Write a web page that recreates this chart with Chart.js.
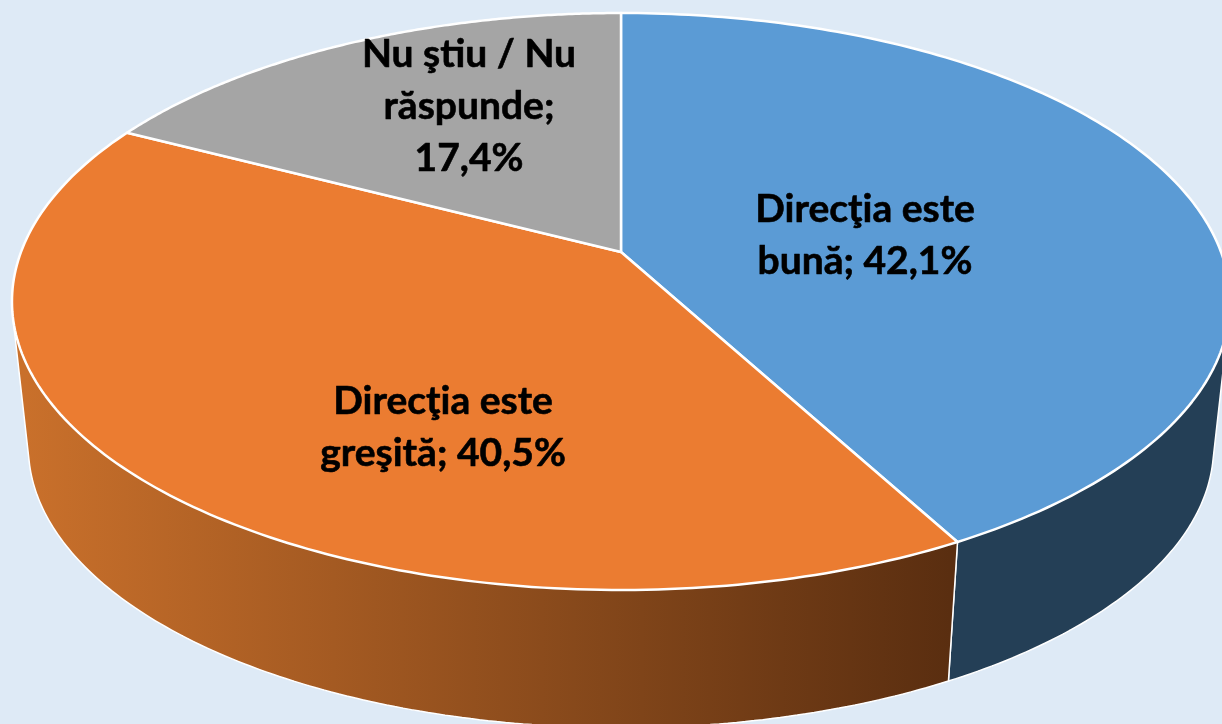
<!DOCTYPE html>
<html>
<head>
<meta charset="utf-8">
<title>Direcţia</title>
<script src="https://cdn.jsdelivr.net/npm/chart.js@4"></script>
<style>
  html, body { margin: 0; padding: 0; background: #deeaf6; overflow: hidden; }
  canvas { display: block; }
</style>
</head>
<body>
<canvas id="pie" width="1222" height="724"></canvas>
<script>
var categories = ["Direcţia este bună", "Direcţia este greşită", "Nu ştiu / Nu răspunde"];
var values = [42.1, 40.5, 17.4];
var labelLines = [
    ["Direcţia este", "bună; 42,1%"],
    ["Direcţia este", "greşită; 40,5%"],
    ["Nu ştiu / Nu", "răspunde;", "17,4%"]
];

// where the labels sit (centre x, y of first line)
var labelPos = [[865, 209], [443, 401], [469, 54]];
var faceColors = ["#5b9bd5", "#eb7c31", "#a5a5a5"];

// tilted disc: perspective of the top face, and the lower rim pulled to the vanishing point
var apexX = 621, apexY = 252, spreadX = 600, spreadY = 280, tilt = 0.1716;
var vanishY = 5694, depthScale = 0.973;

function project(angle, lower) {
    var u = Math.cos(angle), v = Math.sin(angle);
    var w = 1 - tilt * v;
    var x = apexX + spreadX * u / w, y = apexY + spreadY * v / w;
    if (!lower) return [x, y];
    return [apexX + depthScale * (x - apexX), vanishY + depthScale * (y - vanishY)];
}

function traceRim(ctx, from, to) {
    var steps = 160;
    for (var i = 0; i <= steps; i++) {
        var p = project(from + (to - from) * i / steps, false);
        ctx.lineTo(p[0], p[1]);
    }
}

// one slice's wall: only the strips that face the viewer
function drawWall(ctx, a, color) {
    var steps = 200, strips = [], i;
    for (i = 0; i < steps; i++) {
        var a0 = a.startAngle + (a.endAngle - a.startAngle) * i / steps;
        var a1 = a.startAngle + (a.endAngle - a.startAngle) * (i + 1) / steps;
        var q = [project(a0, false), project(a1, false), project(a1, true), project(a0, true)];
        var area = 0;
        for (var k = 0; k < 4; k++) {
            var n = q[(k + 1) % 4];
            area += q[k][0] * n[1] - n[0] * q[k][1];
        }
        strips.push(area < 0 ? q : null);
    }

    ctx.beginPath();
    strips.forEach(function(q) {
        if (!q) return;
        ctx.moveTo(q[0][0], q[0][1]);
        ctx.lineTo(q[1][0], q[1][1]);
        ctx.lineTo(q[2][0], q[2][1]);
        ctx.lineTo(q[3][0], q[3][1]);
        ctx.closePath();
    });
    ctx.fillStyle = color;
    ctx.fill();

    // outline: lower rim and the two ends of the visible run
    ctx.beginPath();
    strips.forEach(function(q, j) {
        if (!q) return;
        if (j == 0 || !strips[j - 1]) {
            ctx.moveTo(q[0][0], q[0][1]);
            ctx.lineTo(q[3][0], q[3][1]);
        }
        ctx.moveTo(q[3][0], q[3][1]);
        ctx.lineTo(q[2][0], q[2][1]);
        if (j == steps - 1 || !strips[j + 1]) ctx.lineTo(q[1][0], q[1][1]);
    });
    ctx.stroke();
}

var tiltedPie = {
    id: "tiltedPie",
    beforeDatasetsDraw: function(chart) {
        var ctx = chart.ctx;
        var arcs = chart.getDatasetMeta(0).data;

        var sideGrad = ctx.createLinearGradient(25, 0, 950, 0);
        sideGrad.addColorStop(0, "#c9702b");
        sideGrad.addColorStop(1, "#5a2e10");
        var sideColors = ["#243f56", sideGrad, "#636363"];

        ctx.save();
        ctx.lineJoin = "round";
        ctx.lineCap = "round";
        ctx.strokeStyle = "#ffffff";

        // side walls first
        ctx.lineWidth = 1.5;
        arcs.forEach(function(a, i) {
            drawWall(ctx, a, sideColors[i]);
        });

        // top faces, from the arcs chart.js computed
        ctx.lineWidth = 2.5;
        arcs.forEach(function(a) {
            ctx.beginPath();
            ctx.moveTo(apexX, apexY);
            traceRim(ctx, a.startAngle, a.endAngle);
            ctx.closePath();
            ctx.fillStyle = a.options.backgroundColor;
            ctx.fill();
            ctx.stroke();
        });

        // data labels
        ctx.fillStyle = "#000000";
        ctx.strokeStyle = "#000000";
        ctx.lineWidth = 0.6;
        ctx.font = "bold 39px Lato";
        ctx.textAlign = "center";
        ctx.textBaseline = "middle";
        labelLines.forEach(function(lines, i) {
            lines.forEach(function(line, j) {
                ctx.fillText(line, labelPos[i][0], labelPos[i][1] + j * 52);
                ctx.strokeText(line, labelPos[i][0], labelPos[i][1] + j * 52);
            });
        });
        ctx.restore();
        return false;
    }
};

new Chart(document.getElementById("pie"), {
    type: "pie",
    data: {
        labels: categories,
        datasets: [{ data: values, backgroundColor: faceColors, borderColor: "#ffffff" }]
    },
    options: {
        responsive: false,
        animation: false,
        plugins: { legend: { display: false }, tooltip: { enabled: false } }
    },
    plugins: [tiltedPie]
});
</script>
</body>
</html>
